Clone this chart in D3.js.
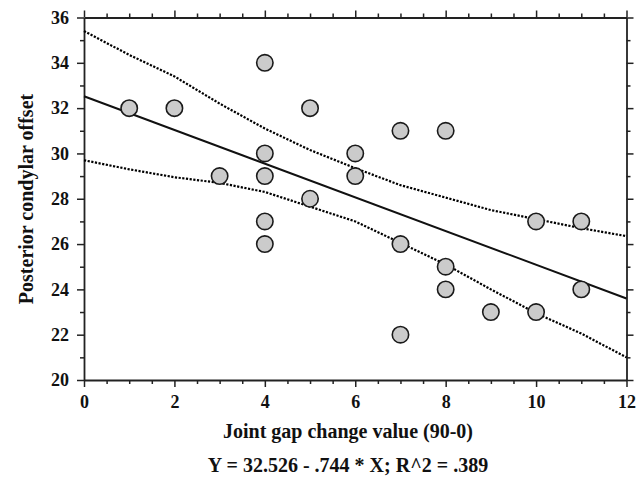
<!DOCTYPE html>
<html>
<head>
<meta charset="utf-8">
<script src="https://cdn.jsdelivr.net/npm/d3@7"></script>
<style>
    body { margin: 0; background: #fff; }
    text { font-family: "Liberation Serif", "Times New Roman", serif; font-weight: bold; fill: #111; }
</style>
</head>
<body>
<div id="chart"></div>
<script>
const gapChange = [1, 2, 3, 4, 4, 4, 4, 4, 5, 5, 6, 6, 7, 7, 7, 8, 8, 8, 9, 10, 10, 11, 11];
const condylarOffset = [32, 32, 29, 34, 30, 29, 27, 26, 32, 28, 30, 29, 31, 26, 22, 31, 25, 24, 23, 27, 23, 27, 24];

// regression fit: Y = 32.526 - .744 * X
const intercept = 32.526;
const slope = -0.744;

// confidence band (dotted), read at each integer x
const bandX = [0, 1, 2, 3, 4, 5, 6, 7, 8, 9, 10, 11, 12];
const bandUpper = [35.4, 34.35, 33.4, 32.2, 31.1, 30.15, 29.35, 28.6, 28.05, 27.5, 27.1, 26.7, 26.35];
const bandLower = [29.7, 29.3, 28.95, 28.7, 28.3, 27.65, 27.0, 26.05, 25.1, 24.0, 22.95, 22.05, 21.0];

const xMajor = [0, 2, 4, 6, 8, 10, 12];
const yMajor = [20, 22, 24, 26, 28, 30, 32, 34, 36];

function scatter() {
    const margin = { top: 17.5, right: 17.5, bottom: 97, left: 84 },
        width = 644 - margin.left - margin.right,
        height = 477 - margin.top - margin.bottom;

    const svg = d3.select("#chart")
        .append("svg")
        .attr("width", 644)
        .attr("height", 477)
        .append("g")
        .attr("transform", `translate(${margin.left},${margin.top})`);

    const x = d3.scaleLinear().domain([0, 12]).range([0, width]);
    const y = d3.scaleLinear().domain([20, 36]).range([height, 0]);

    const xMinor = d3.range(0, 12.01, 0.5).filter(v => v % 2 !== 0);
    const yMinor = d3.range(21, 36, 2);

    // draw one side of the frame: minor ticks, then major ticks with or without labels
    function side(axisFn, scale, major, minor, transform, labels) {
        const g = svg.append("g").attr("transform", transform);
        g.append("g")
            .call(axisFn(scale).tickValues(minor).tickSize(4).tickFormat(""))
            .call(a => a.select(".domain").remove());
        const m = g.append("g")
            .call(axisFn(scale).tickValues(major).tickSize(7).tickSizeOuter(0).tickPadding(8)
                .tickFormat(labels ? d3.format("d") : ""));
        m.selectAll("text").style("font-size", "18px");
        g.selectAll("line").attr("stroke", "#222").attr("stroke-width", 1.5);
        m.select(".domain").attr("stroke", "#222").attr("stroke-width", 1.8);
        return g;
    }

    side(d3.axisBottom, x, xMajor, xMinor, `translate(0,${height})`, true);
    side(d3.axisTop, x, xMajor, xMinor, "translate(0,0)", false);
    side(d3.axisLeft, y, yMajor, yMinor, "translate(0,0)", true);
    side(d3.axisRight, y, yMajor, yMinor, `translate(${width},0)`, false);

    // fitted line
    svg.append("line")
        .attr("x1", x(0))
        .attr("y1", y(intercept))
        .attr("x2", x(12))
        .attr("y2", y(intercept + slope * 12))
        .attr("stroke", "#111")
        .attr("stroke-width", 2);

    // dotted bands
    const band = d3.line().x((d, i) => x(bandX[i])).y(d => y(d));
    [bandUpper, bandLower].forEach(b => {
        svg.append("path")
            .datum(b)
            .attr("fill", "none")
            .attr("stroke", "#000")
            .attr("stroke-width", 2.2)
            .attr("stroke-dasharray", "2.2,1.5")
            .attr("d", band);
    });

    svg.selectAll("circle")
        .data(gapChange)
        .enter()
        .append("circle")
        .attr("cx", d => x(d))
        .attr("cy", (d, i) => y(condylarOffset[i]))
        .attr("r", 8.2)
        .attr("fill", "#cbcbcb")
        .attr("stroke", "#1a1a1a")
        .attr("stroke-width", 1.6);

    // titles
    svg.append("text")
        .attr("x", 348 - margin.left)
        .attr("y", 438 - margin.top)
        .attr("text-anchor", "middle")
        .style("font-size", "20px")
        .text("Joint gap change value (90-0)");

    svg.append("text")
        .attr("x", 348 - margin.left)
        .attr("y", 471.5 - margin.top)
        .attr("text-anchor", "middle")
        .style("font-size", "20px")
        .text("Y = 32.526 - .744 * X; R^2 = .389");

    svg.append("text")
        .attr("transform", "rotate(-90)")
        .attr("x", -(199 - margin.top))
        .attr("y", 33 - margin.left)
        .attr("text-anchor", "middle")
        .style("font-size", "20px")
        .text("Posterior condylar offset");
}

window.onload = scatter;
</script>
</body>
</html>
